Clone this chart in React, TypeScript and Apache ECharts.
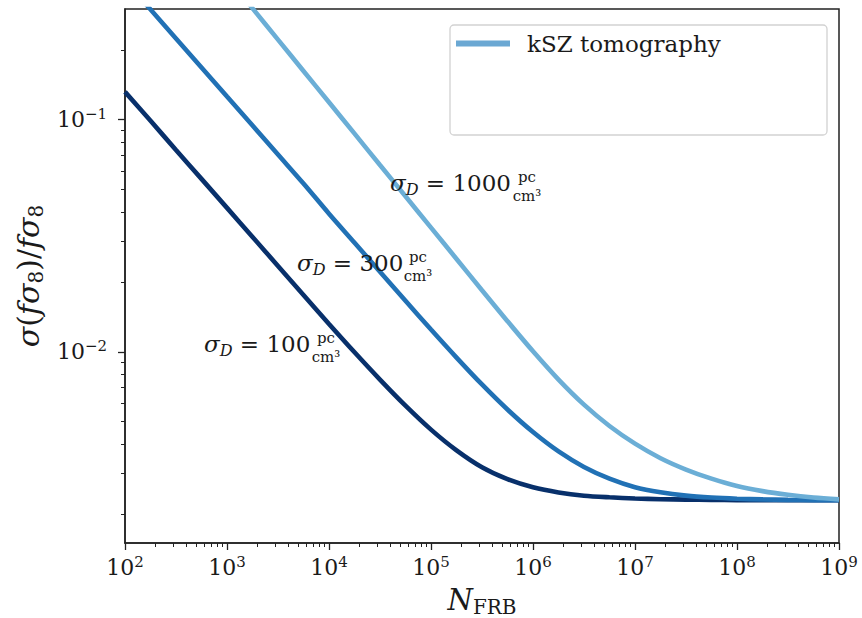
import React, { useEffect, useRef } from "react";
import * as echarts from "echarts";

const FONT = "'DejaVu Serif', serif";
const INK = "#1a1a1a";

// Number of FRBs (x), sampled every quarter decade
const frbCounts = [
  1e2, 1.78e2, 3.16e2, 5.62e2, 1e3, 1.78e3, 3.16e3, 5.62e3, 1e4, 1.78e4, 3.16e4, 5.62e4, 1e5,
  1.78e5, 3.16e5, 5.62e5, 1e6, 1.78e6, 3.16e6, 5.62e6, 1e7, 1.78e7, 3.16e7, 5.62e7, 1e8, 1.78e8,
  3.16e8, 5.62e8, 1e9,
];

// Relative error on f*sigma8 for three dispersion-measure scatters
const errSigma100 = [
  0.1318, 0.0989, 0.0741, 0.0556, 0.0417, 0.03126, 0.02344, 0.01758, 0.01318, 0.00995, 0.00759,
  0.00586, 0.00462, 0.00376, 0.00318, 0.002825, 0.002606, 0.002477, 0.002399, 0.00236, 0.002333,
  0.002317, 0.002307, 0.002301, 0.002296, 0.002296, 0.002291, 0.002291, 0.002291,
];
const errSigma300 = [
  0.398, 0.2985, 0.2239, 0.1679, 0.1259, 0.0944, 0.0708, 0.0531, 0.03936, 0.02951, 0.02213,
  0.0166, 0.01247, 0.00944, 0.00723, 0.00564, 0.00451, 0.00372, 0.00319, 0.00284, 0.00261,
  0.00248, 0.0024, 0.002355, 0.002328, 0.002312, 0.002301, 0.002296, 0.002291,
];
const errSigma1000 = [
  1.432, 1.05, 0.769, 0.564, 0.413, 0.302, 0.2213, 0.1622, 0.1189, 0.0871, 0.0638, 0.0468,
  0.03428, 0.02512, 0.01841, 0.01355, 0.01005, 0.00759, 0.00592, 0.00479, 0.00402, 0.00348,
  0.00311, 0.00284, 0.00264, 0.00251, 0.00242, 0.002355, 0.002312,
];

const seriesNames = ["σD = 100", "σD = 300", "σD = 1000"];
const seriesColors = ["#08306b", "#2171b5", "#6baed6"];
const legendName = "kSZ tomography";

// Axis limits and tick positions
const xMin = 1e2;
const xMax = 1e9;
const yMin = 0.0015;
const yMax = 0.3;
const xMajorTicks = [1e2, 1e3, 1e4, 1e5, 1e6, 1e7, 1e8, 1e9];
const yMajorTicks = [0.01, 0.1];
const minorMultipliers = [2, 3, 4, 5, 6, 7, 8, 9];
const yMinorDecades = [0.001, 0.01, 0.1];

// Curve annotations: value of sigma_D and where the text sits
const annotations = [
  { value: "1000", x: 390, y: 183, fracX: 527 },
  { value: "300", x: 297, y: 263, fracX: 418 },
  { value: "100", x: 204, y: 344, fracX: 326 },
];

const pow10Label = (v: number) => {
  const e = Math.round(Math.log10(v));
  return `{b|10}{s|${e < 0 ? "\u2212" + Math.abs(e) : e}}`;
};

const powRich = {
  b: { fontSize: 22, fontFamily: FONT, color: INK, lineHeight: 26 },
  s: { fontSize: 15, fontFamily: FONT, color: INK, lineHeight: 14, verticalAlign: "top" as const },
};

export default function App() {
  const ref = useRef<HTMLDivElement>(null);

  useEffect(() => {
    const chart = echarts.init(ref.current!, null, { renderer: "svg" });

    const xMinor: number[] = [];
    xMajorTicks.slice(0, -1).forEach((d) => minorMultipliers.forEach((m) => xMinor.push(m * d)));
    const yMinor: number[] = [];
    yMinorDecades.forEach((d) =>
      minorMultipliers.forEach((m) => {
        const v = m * d;
        if (v > yMin && v < yMax) yMinor.push(v);
      })
    );

    const lineSeries = [errSigma100, errSigma300, errSigma1000].map((vals, i) => ({
      type: "line" as const,
      name: seriesNames[i],
      data: frbCounts.map((n, j) => [n, vals[j]]),
      xAxisIndex: 0,
      yAxisIndex: 0,
      showSymbol: false,
      smooth: 0.3,
      color: seriesColors[i],
      lineStyle: { width: 4.6, color: seriesColors[i] },
      clip: true,
      z: 3,
    }));

    const annotationGraphics: any[] = [];
    annotations.forEach((a) => {
      annotationGraphics.push({
        type: "text",
        x: a.x,
        y: a.y,
        z: 10,
        style: {
          text: `{i|σ}{d|D}{r| = ${a.value}}`,
          verticalAlign: "middle",
          align: "left",
          rich: {
            i: { fontSize: 23, fontFamily: FONT, fontStyle: "italic", fill: INK, lineHeight: 28 },
            d: {
              fontSize: 16,
              fontFamily: FONT,
              fontStyle: "italic",
              fill: INK,
              lineHeight: 15,
              verticalAlign: "bottom",
            },
            r: { fontSize: 23, fontFamily: FONT, fill: INK, lineHeight: 28 },
          },
        },
      });
      annotationGraphics.push({
        type: "text",
        x: a.fracX,
        y: a.y - 6,
        z: 10,
        style: {
          text: "pc",
          fontSize: 15,
          fontFamily: FONT,
          fill: INK,
          align: "center",
          verticalAlign: "middle",
        },
      });
      annotationGraphics.push({
        type: "text",
        x: a.fracX,
        y: a.y + 13,
        z: 10,
        style: {
          text: "cm³",
          fontSize: 15,
          fontFamily: FONT,
          fill: INK,
          align: "center",
          verticalAlign: "middle",
        },
      });
    });

    const baseAxis = {
      splitLine: { show: false },
      minorTick: { show: false },
    };

    chart.setOption({
      animation: false,
      backgroundColor: "#ffffff",
      grid: {
        left: 125,
        right: 23,
        top: 9,
        bottom: 75,
        show: true,
        borderColor: "#222",
        borderWidth: 1.5,
        backgroundColor: "transparent",
        containLabel: false,
        outerBoundsMode: "none",
      },
      xAxis: [
        {
          ...baseAxis,
          type: "log",
          logBase: 10,
          min: xMin,
          max: xMax,
          position: "bottom",
          axisLine: { show: true, lineStyle: { color: "#222", width: 1.5 } },
          axisTick: {
            show: true,
            inside: false,
            length: 7,
            lineStyle: { color: "#222", width: 1.3 },
            customValues: xMajorTicks,
          },
          axisLabel: {
            show: true,
            margin: 11,
            customValues: xMajorTicks,
            formatter: pow10Label,
            rich: powRich,
          },
          name: "{n|N}{sub|FRB}",
          nameLocation: "middle",
          nameGap: 40,
          nameTextStyle: {
            rich: {
              n: { fontSize: 29, fontFamily: FONT, fontStyle: "italic", color: INK, lineHeight: 34 },
              sub: {
                fontSize: 20,
                fontFamily: FONT,
                color: INK,
                lineHeight: 20,
                verticalAlign: "bottom",
              },
            },
          },
        },
        {
          ...baseAxis,
          type: "log",
          logBase: 10,
          min: xMin,
          max: xMax,
          position: "bottom",
          axisLine: { show: false },
          axisTick: {
            show: true,
            inside: false,
            length: 4,
            lineStyle: { color: "#222", width: 1 },
            customValues: xMinor,
          },
          axisLabel: { show: false },
        },
      ],
      yAxis: [
        {
          ...baseAxis,
          type: "log",
          logBase: 10,
          min: yMin,
          max: yMax,
          position: "left",
          axisLine: { show: true, lineStyle: { color: "#222", width: 1.5 } },
          axisTick: {
            show: true,
            inside: false,
            length: 7,
            lineStyle: { color: "#222", width: 1.3 },
            customValues: yMajorTicks,
          },
          axisLabel: {
            show: true,
            margin: 18,
            customValues: yMajorTicks,
            formatter: pow10Label,
            rich: powRich,
          },
          name: "{i|σ}{r|(}{i|fσ}{sub|8}{r|)/}{i|fσ}{sub|8}",
          nameLocation: "middle",
          nameGap: 60,
          nameRotate: 90,
          nameTextStyle: {
            rich: {
              i: { fontSize: 30, fontFamily: FONT, fontStyle: "italic", color: INK, lineHeight: 35 },
              r: { fontSize: 30, fontFamily: FONT, color: INK, lineHeight: 35 },
              sub: {
                fontSize: 20,
                fontFamily: FONT,
                color: INK,
                lineHeight: 21,
                verticalAlign: "bottom",
              },
            },
          },
        },
        {
          ...baseAxis,
          type: "log",
          logBase: 10,
          min: yMin,
          max: yMax,
          position: "left",
          axisLine: { show: false },
          axisTick: {
            show: true,
            inside: false,
            length: 4,
            lineStyle: { color: "#222", width: 1 },
            customValues: yMinor,
          },
          axisLabel: { show: false },
        },
      ],
      legend: {
        data: [{ name: legendName, icon: "rect" }],
        left: 456,
        top: 32,
        padding: 0,
        itemWidth: 54,
        itemHeight: 6,
        selectedMode: false,
        textStyle: {
          fontSize: 23,
          fontFamily: FONT,
          color: INK,
          padding: [0, 0, 0, 12],
        },
        z: 20,
      },
      graphic: [
        {
          type: "rect",
          z: 15,
          shape: { x: 450, y: 25, width: 377, height: 110, r: 4 },
          style: { fill: "#ffffff", stroke: "#d2d2d2", lineWidth: 1.3 },
        },
        ...annotationGraphics,
      ],
      series: [
        ...lineSeries,
        {
          type: "line",
          name: legendName,
          data: [],
          color: "#6ba8d3",
          lineStyle: { width: 4.6, color: "#6ba8d3" },
          showSymbol: false,
        },
      ],
    });

    return () => chart.dispose();
  }, []);

  return (
    <div
      ref={ref}
      style={{ position: "fixed", left: 0, top: 0, width: 862, height: 618 }}
    />
  );
}
